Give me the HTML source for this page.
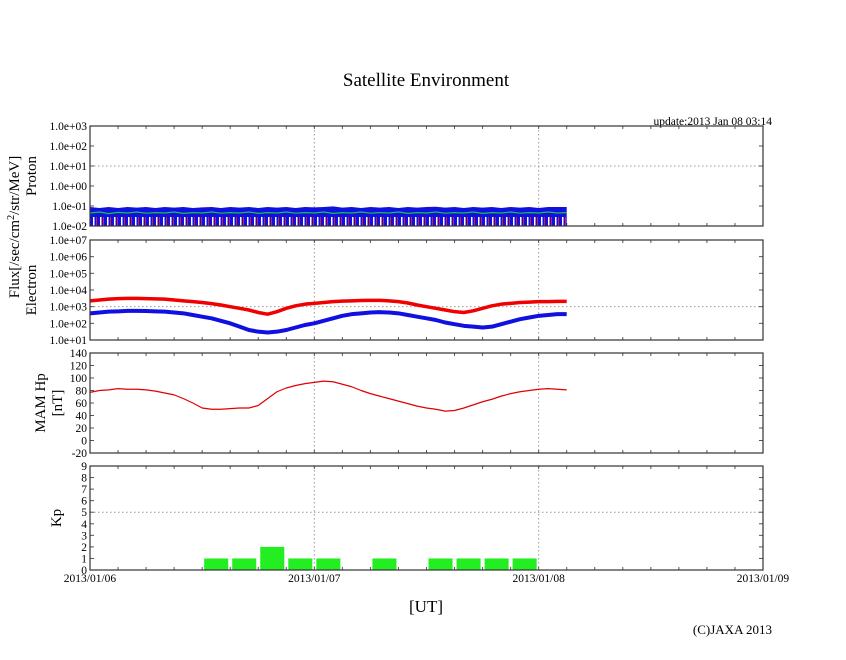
<!DOCTYPE html>
<html><head><meta charset="utf-8"><style>
body{margin:0;background:#fff;}
svg{font-family:"Liberation Serif",serif;}
</style></head><body>
<svg id="c" width="846" height="655" viewBox="0 0 846 655" xmlns="http://www.w3.org/2000/svg">
<defs>
<pattern id="stripes" width="7" height="10" patternUnits="userSpaceOnUse">
<rect width="7" height="10" fill="#1010e0"/>
<rect x="2" width="1.5" height="10" fill="#fff"/>
<rect x="5" width="1" height="10" fill="#e02020"/>
</pattern>
</defs>
<text x="426" y="86" font-size="19" text-anchor="middle">Satellite Environment</text>
<text x="772" y="125" font-size="11.5" text-anchor="end">update:2013 Jan 08 03:14</text>
<text x="426" y="612" font-size="17" text-anchor="middle">[UT]</text>
<text x="772" y="634" font-size="13" text-anchor="end">(C)JAXA 2013</text>
<text transform="translate(19,227) rotate(-90)" font-size="15" text-anchor="middle">Flux[/sec/cm<tspan dy="-5" font-size="10">2</tspan><tspan dy="5">/str/MeV]</tspan></text>
<text transform="translate(36,176) rotate(-90)" font-size="15" text-anchor="middle">Proton</text>
<text transform="translate(36,290) rotate(-90)" font-size="15" text-anchor="middle">Electron</text>
<text transform="translate(45,403) rotate(-90)" font-size="15" text-anchor="middle">MAM Hp</text>
<text transform="translate(62,403) rotate(-90)" font-size="15" text-anchor="middle">[nT]</text>
<text transform="translate(61,518) rotate(-90)" font-size="15" text-anchor="middle">Kp</text>
<g id="plots"></g>
</svg>
<script>
// x ticks
const dayLabels = ["2013/01/06","2013/01/07","2013/01/08","2013/01/09"];
// hourly series (hours 0..51 from 2013/01/06 00:00)
const protonBlueTop = [-1.05,-1.1,-1.05,-1.1,-1.05,-1.08,-1.05,-1.1,-1.05,-1.08,-1.05,-1.1,-1.07,-1.05,-1.1,-1.05,-1.08,-1.05,-1.1,-1.05,-1.08,-1.05,-1.1,-1.05,-1.07,-1.05,-1.02,-1.08,-1.05,-1.1,-1.05,-1.08,-1.05,-1.1,-1.05,-1.08,-1.05,-1.04,-1.08,-1.05,-1.1,-1.05,-1.08,-1.05,-1.1,-1.05,-1.08,-1.05,-1.1,-1.05,-1.05,-1.05];
const protonGreen = [-1.35,-1.3,-1.38,-1.32,-1.35,-1.3,-1.36,-1.33,-1.35,-1.3,-1.37,-1.33,-1.35,-1.3,-1.36,-1.33,-1.35,-1.3,-1.37,-1.33,-1.35,-1.3,-1.36,-1.33,-1.35,-1.3,-1.37,-1.33,-1.35,-1.3,-1.36,-1.33,-1.35,-1.3,-1.37,-1.33,-1.35,-1.3,-1.36,-1.33,-1.35,-1.3,-1.37,-1.33,-1.35,-1.3,-1.36,-1.33,-1.35,-1.3,-1.35,-1.33];
const electronRed = [3.35,3.4,3.45,3.48,3.5,3.5,3.48,3.47,3.45,3.4,3.35,3.3,3.25,3.18,3.1,3.0,2.9,2.8,2.65,2.55,2.7,2.9,3.05,3.15,3.2,3.25,3.3,3.33,3.35,3.37,3.38,3.38,3.35,3.3,3.22,3.1,3.0,2.9,2.8,2.7,2.65,2.75,2.9,3.05,3.15,3.2,3.25,3.27,3.3,3.3,3.32,3.32];
const electronBlue = [2.6,2.65,2.7,2.72,2.75,2.75,2.74,2.72,2.7,2.65,2.6,2.5,2.4,2.3,2.15,2.0,1.8,1.6,1.5,1.45,1.5,1.6,1.75,1.9,2.0,2.15,2.3,2.45,2.55,2.6,2.65,2.67,2.65,2.6,2.5,2.4,2.3,2.2,2.05,1.95,1.85,1.8,1.75,1.8,1.95,2.1,2.25,2.35,2.45,2.5,2.55,2.55];
const mamHp = [77,80,81,83,82,82,81,79,76,73,67,60,52,50,50,51,52,52,56,67,78,84,88,91,93,95,94,90,86,80,75,71,67,63,59,55,52,50,47,48,52,57,62,66,71,75,78,80,82,83,82,81];
// Kp, 3-hour intervals starting 2013/01/06 00:00
const kpValues = [0,0,0,0,1,1,2,1,1,0,1,0,1,1,1,1,0];
const protonTicks = ["1.0e-02","1.0e-01","1.0e+00","1.0e+01","1.0e+02","1.0e+03"];
const electronTicks = ["1.0e+01","1.0e+02","1.0e+03","1.0e+04","1.0e+05","1.0e+06","1.0e+07"];
const hpTicks = [-20,0,20,40,60,80,100,120,140];
const kpTicks = [0,1,2,3,4,5,6,7,8,9];

const NS="http://www.w3.org/2000/svg";
const g=document.getElementById('plots');
const X0=90,X1=763,HOURS=72;
const xs=h=>X0+(X1-X0)*h/HOURS;
function el(t,a,p){const e=document.createElementNS(NS,t);for(const k in a)e.setAttribute(k,a[k]);(p||g).appendChild(e);return e;}
function panel(name,top,bot,min,max,labels,gridVals){
  const ys=v=>bot-(v-min)/(max-min)*(bot-top);
  const pg=el('g',{});
  
  
  for(let d=1;d<3;d++){const l=el('line',{x1:xs(d*24),x2:xs(d*24),y1:top,y2:bot,stroke:'#999','stroke-dasharray':'1.5,2.5'},pg);}
  gridVals.forEach(v=>{const l=el('line',{x1:X0,x2:X1,y1:ys(v),y2:ys(v),stroke:'#999','stroke-dasharray':'1.5,2.5'},pg);});
  for(let h=3;h<HOURS;h+=3){el('line',{x1:xs(h),x2:xs(h),y1:bot,y2:bot-3,stroke:'#555'},pg);el('line',{x1:xs(h),x2:xs(h),y1:top,y2:top+3,stroke:'#555'},pg);}
  labels.forEach(([v,t])=>{
    el('line',{x1:X0,x2:X0+4,y1:ys(v),y2:ys(v),stroke:'#555'},pg);
    el('line',{x1:X1,x2:X1-4,y1:ys(v),y2:ys(v),stroke:'#555'},pg);
    const tx=el('text',{x:X0-3,y:ys(v)+4,'font-size':11.5,'text-anchor':'end'},pg);tx.textContent=t;
    
  });
  return {ys,pg,top,bot};
}
function poly(p,arr,ysf,color,w,name){
  const pts=arr.map((v,i)=>xs(i)+','+ysf(v)).join(' ');
  const e=el('polyline',{points:pts,fill:'none',stroke:color,'stroke-width':w,'stroke-linejoin':'round'},p);
  
  
}
function frame(p,top,bot){el('rect',{x:X0,y:top,width:X1-X0,height:bot-top,fill:'none',stroke:'#333','stroke-width':1.2},p.pg);}

// Proton
let P=panel('proton',126,226,-2,3,protonTicks.map((t,i)=>[i-2,t]),[1]);
{const n=protonBlueTop.length-1;
 const pts=protonBlueTop.map((v,i)=>xs(i)+','+P.ys(v)).join(' ');
 const a=el('polygon',{points:pts+' '+xs(n)+','+P.ys(-1.55)+' '+xs(0)+','+P.ys(-1.55),fill:'#1010e0'},P.pg);
 
 const b=el('rect',{x:xs(0),y:P.ys(-1.55),width:xs(n)-xs(0),height:P.ys(-2)-P.ys(-1.55),fill:'url(#stripes)'},P.pg);
 }
poly(P.pg,protonGreen,P.ys,'#20c040',1.2,'proton-green-series');
frame(P,126,226);
// Electron
let E=panel('electron',240,340,1,7,electronTicks.map((t,i)=>[i+1,t]),[3]);
poly(E.pg,electronRed,E.ys,'#f00000',3.5,'electron-red-series');
poly(E.pg,electronBlue,E.ys,'#1010e0',4,'electron-blue-series');
frame(E,240,340);
// Hp
let H=panel('mam-hp',353,453,-20,140,hpTicks.map(v=>[v,String(v)]),[]);
poly(H.pg,mamHp,H.ys,'#e00000',1.2,'mam-hp-series');
frame(H,353,453);
// Kp
let K=panel('kp',466,570,0,9,kpTicks.map(v=>[v,String(v)]),[5]);
kpValues.forEach((v,i)=>{if(v<=0)return;
  const r=el('rect',{x:xs(i*3)+2,y:K.ys(v),width:xs(3)-xs(0)-4,height:K.ys(0)-K.ys(v),fill:'#22ee22'},K.pg);
  });
frame(K,466,570);
dayLabels.forEach((t,i)=>{const tx=el('text',{x:xs(i*24),y:582,'font-size':11.5,'text-anchor':'middle'});tx.textContent=t;
  });
</script>
</body></html>
